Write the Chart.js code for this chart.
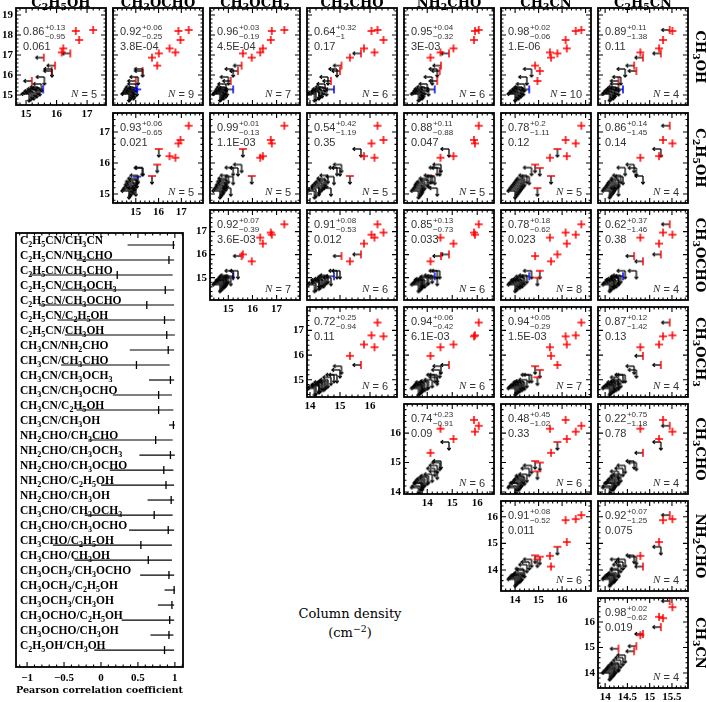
<!DOCTYPE html>
<html>
<head>
<meta charset="utf-8">
<title>Column density correlations</title>
<script src="https://cdn.jsdelivr.net/npm/chart.js@4.4.1/dist/chart.umd.min.js"></script>
<style>
  body { margin: 0; background: #fff; }
  #page { position: relative; width: 706px; height: 702px; overflow: hidden; }
  #page canvas { position: absolute; }
  .lab { position: absolute; font-family: 'DejaVu Serif', serif; font-weight: bold; color: #000; white-space: nowrap; text-align: center; }
  .lab sub { font-size: 72%; vertical-align: -0.3em; line-height: 0; }
  .lab sup { font-size: 72%; vertical-align: 0.5em; line-height: 0; }
  .colh { width: 90px; font-size: 13px; line-height: 16px; top: -5px; }
  .rowh { width: 120px; height: 16px; font-size: 13px; line-height: 16px; transform: rotate(90deg); }
  .axt { font-weight: normal; font-size: 13px; width: 220px; left: 240px; line-height: 18px; }
</style>
</head>
<body>
<div id="page"></div>
<script>
// --- Data ---

// species on the x axes (columns) and y axes (rows)
const colSpecies = ['C2H5OH', 'CH3OCHO', 'CH3OCH3', 'CH3CHO', 'NH2CHO', 'CH3CN', 'C2H5CN'];
const rowSpecies = ['CH3OH', 'C2H5OH', 'CH3OCHO', 'CH3OCH3', 'CH3CHO', 'NH2CHO', 'CH3CN'];

// log10 column densities per source (11 sources with CH3OH detected, then 11 with limits only)
const N_CH3OH   = [18.2, 17.75, 17.33, 17.13, 18.25, 17.08, 16.87, 16.47, 15.28, 16.2, 15.7, 16.3, 15.9, 15.55, 15.4, 15.3, 15.25, 15.2, 15.1, 15.05, 15.35, 15.15];
const N_C2H5OH  = [16.63, 16.74, 16.22, 16.17, 17.2, 16.45, 15.58, 15.95, 15.56, 15.84, 15.19, 15.85, 15.6, 15.5, 15.4, 15.3, 15.35, 15.2, 15.15, 15.1, 15.45, 15.25];
const N_CH3OCHO = [16.87, 16.96, 16.48, 16.74, 17.32, 16.01, 15.71, 15.94, 15.06, 15.3, 15.0, 15.3, 15.1, 15.0, 14.9, 14.85, 14.95, 14.8, 14.75, 14.7, 15.05, 14.9];
const N_CH3OCH3 = [16.8, 16.76, 16.43, 16.32, 17.32, 15.6, 15.97, 15.55, 15.2, 15.4, 15.1, 15.2, 15.0, 14.9, 14.85, 14.8, 14.9, 14.75, 14.7, 14.65, 14.95, 14.8];
const N_CH3CHO  = [16.05, 16.45, 15.8, 16.15, 16.25, 15.7, 15.33, 15.05, 14.8, 15.0, 14.7, 14.9, 14.6, 14.5, 14.45, 14.35, 14.4, 14.3, 14.2, 14.15, 14.55, 14.3];
const N_NH2CHO  = [15.91, 15.87, 15.05, 14.53, 16.06, 14.87, 14.13, 14.55, 14.3, 14.5, 14.4, 14.4, 14.2, 14.0, 13.9, 13.8, 13.85, 13.75, 13.7, 13.65, 14.05, 13.8];
const N_CH3CN   = [16.58, 16.15, 16.2, 15.48, 16.82, 15.8, 15.53, 14.85, 14.6, 15.05, 14.95, 14.7, 14.5, 14.4, 14.3, 14.2, 14.25, 14.1, 14.05, 14.0, 14.35, 14.15];
const N_C2H5CN  = [15.51, 15.3, 15.21, 14.79, 15.45, 15.25, 14.85, 14.65, 14.4, 14.7, 14.3, 14.45, 14.35, 14.3, 14.25, 14.2, 14.22, 14.15, 14.12, 14.1, 14.3, 14.18];

// 1 = detected, 0 = upper limit
const D_CH3OH   = [1,1,1,1,1,1,1,1,1,1,1, 0,0,0,0,0,0,0,0,0,0,0];
const D_C2H5OH  = [1,1,1,1,1,0,0,0,0,0,0, 0,0,0,0,0,0,0,0,0,0,0];
const D_CH3OCHO = [1,1,1,1,1,1,1,1,1,0,0, 0,0,0,0,0,0,0,0,0,0,0];
const D_CH3OCH3 = [1,1,1,1,1,1,1,0,0,0,0, 0,0,0,0,0,0,0,0,0,0,0];
const D_CH3CHO  = [1,1,1,1,1,0,1,0,0,0,0, 0,0,0,0,0,0,0,0,0,0,0];
const D_NH2CHO  = [1,1,1,1,1,0,1,0,0,0,0, 0,0,0,0,0,0,0,0,0,0,0];
const D_CH3CN   = [1,1,1,1,1,1,1,1,0,1,1, 0,0,0,0,0,0,0,0,0,0,0];
const D_C2H5CN  = [1,1,1,1,0,0,0,0,0,0,0, 0,0,0,0,0,0,0,0,0,0,0];

// source drawn in blue
const blueSource = [0,0,0,0,0,0,0,0,1,0,0, 0,0,0,0,0,0,0,0,0,0,0];

// axis ranges and tick labels
const xMin = [14.67, 14.0, 14.24, 13.9, 13.07, 13.4, 13.84];
const xMax = [17.62, 17.95, 17.97, 16.9, 16.67, 17.23, 15.86];
const yMin = [14.5, 14.71, 14.03, 14.3, 13.93, 13.21, 13.41];
const yMax = [19.35, 17.61, 17.94, 17.95, 16.99, 16.59, 16.94];
const xTicks = [[15,16,17], [15,16,17], [15,16,17], [14,15,16], [14,15,16], [14,15,16], [14,14.5,15,15.5]];
const yTicks = [[15,16,17,18,19], [15,16,17], [15,16,17], [15,16,17], [14,15,16], [14,15,16], [14,15,16]];

// Pearson r with upper / lower uncertainty, p-value, number of detections (row r, columns r..6)
const corrR = [[0.86,0.92,0.96,0.64,0.95,0.98,0.89],[0.93,0.99,0.54,0.88,0.78,0.86],[0.92,0.91,0.85,0.78,0.62],[0.72,0.94,0.94,0.87],[0.74,0.48,0.22],[0.91,0.92],[0.98]];
const corrPlus = [[0.13,0.06,0.03,0.32,0.04,0.02,0.11],[0.06,0.01,0.42,0.11,0.2,0.14],[0.07,0.08,0.13,0.18,0.37],[0.25,0.06,0.05,0.12],[0.23,0.45,0.75],[0.08,0.07],[0.02]];
const corrMinus = [[0.95,0.25,0.19,1,0.32,0.06,1.38],[0.65,0.13,1.19,0.88,1.11,1.45],[0.39,0.53,0.73,0.62,1.46],[0.94,0.42,0.29,1.42],[0.91,1.02,1.18],[0.52,1.25],[0.62]];
const pValue = [['0.061','3.8E-04','4.5E-04','0.17','3E-03','1.E-06','0.11'],['0.021','1.1E-03','0.35','0.047','0.12','0.14'],['3.6E-03','0.012','0.033','0.023','0.38'],['0.11','6.1E-03','1.5E-03','0.13'],['0.09','0.33','0.78'],['0.011','0.075'],['0.019']];
const nDet = [[5,9,7,6,6,10,4],[5,5,5,5,5,4],[7,6,6,8,4],[6,6,7,4],[6,6,4],[6,4],[4]];

const pearsonTicks = [-1, -0.5, 0, 0.5, 1];

// --- Layout ---
const colLeft = [16, 113, 210, 307, 404, 501, 598];
const rowTop = [8, 113, 210, 307, 404, 501, 598];
const rowH = [97, 90, 90, 90, 90, 90, 90];
const panelW = 90;
const M = 12;

const logN = {CH3OH: N_CH3OH, C2H5OH: N_C2H5OH, CH3OCHO: N_CH3OCHO, CH3OCH3: N_CH3OCH3, CH3CHO: N_CH3CHO, NH2CHO: N_NH2CHO, CH3CN: N_CH3CN, C2H5CN: N_C2H5CN};
const detected = {CH3OH: D_CH3OH, C2H5OH: D_C2H5OH, CH3OCHO: D_CH3OCHO, CH3OCH3: D_CH3OCH3, CH3CHO: D_CH3CHO, NH2CHO: D_NH2CHO, CH3CN: D_CH3CN, C2H5CN: D_C2H5CN};

const page = document.getElementById('page');
const tickFont = {family: 'Liberation Serif', weight: 'bold', size: 11};

function chemHtml(s) { return s.replace(/(\d+)/g, '<sub>$1</sub>'); }

function drawChem(ctx, s, x, y, size) {
    s.split(/(\d)/).forEach(part => {
        if (!part) return;
        const sub = /\d/.test(part);
        ctx.font = `bold ${sub ? size * 0.7 : size}px "Liberation Serif"`;
        ctx.fillText(part, x, y + (sub ? size * 0.28 : 0));
        x += ctx.measureText(part).width;
    });
}

// --- Markers ---
function arrow(g, x0, y0, x1, y1) {
    g.beginPath(); g.moveTo(x0, y0); g.lineTo(x1, y1); g.stroke();
    const a = Math.atan2(y1 - y0, x1 - x0), h = 2.6;
    g.beginPath();
    g.moveTo(x1 - h * Math.cos(a - 0.7), y1 - h * Math.sin(a - 0.7));
    g.lineTo(x1, y1);
    g.lineTo(x1 - h * Math.cos(a + 0.7), y1 - h * Math.sin(a + 0.7));
    g.stroke();
}

function makeMarker(kind, col) {
    const c = document.createElement('canvas');
    c.width = c.height = 24;
    const g = c.getContext('2d');
    const m = 12;
    g.lineWidth = 1.3;
    g.strokeStyle = '#000';
    if (kind === 'xlim' || kind === 'both') arrow(g, m, m, m - 8, m);
    if (kind === 'ylim' || kind === 'both') arrow(g, m, m, m, m + 8);
    g.strokeStyle = col;
    g.lineWidth = 1.5;
    g.beginPath();
    if (kind === 'det' || kind === 'xlim') { g.moveTo(m, m - 4); g.lineTo(m, m + 4); }
    if (kind === 'det' || kind === 'ylim') { g.moveTo(m - 4, m); g.lineTo(m + 4, m); }
    g.stroke();
    return c;
}

const MARK = {};
['det', 'xlim', 'ylim', 'both'].forEach(k => {
    MARK[k] = makeMarker(k, '#ff0000');
    MARK[k + 'B'] = makeMarker(k, '#0000ff');
});

// --- Plugins ---
function eachTick(scale, minor, major, fn) {
    if (!minor) return;
    for (let k = Math.ceil(scale.min / minor - 1e-9); k * minor <= scale.max + 1e-9; k++) {
        const v = k * minor;
        const big = Math.abs(v / major - Math.round(v / major)) < 1e-6;
        fn(scale.getPixelForValue(v), big);
    }
}

function drawNote(ctx, a, n) {
    const x0 = a.left + 7, y0 = a.top + 15 + n.shift;
    ctx.fillStyle = '#333';
    ctx.textBaseline = 'middle';
    ctx.textAlign = 'left';
    ctx.font = '11px "Liberation Sans"';
    const rs = n.r.toFixed(2);
    ctx.fillText(rs, x0, y0);
    const w = ctx.measureText(rs).width;
    ctx.font = '8px "Liberation Sans"';
    ctx.fillText('+' + n.plus, x0 + w + 0.5, y0 - 4.5);
    ctx.fillText('\u2212' + n.minus, x0 + w + 0.5, y0 + 4.5);
    ctx.font = '11px "Liberation Sans"';
    ctx.fillText(n.p, x0, y0 + 14.5);
    const tail = ' = ' + n.n;
    const wt = ctx.measureText(tail).width;
    ctx.font = 'italic 11px "Liberation Serif"';
    const wn = ctx.measureText('N').width;
    const xr = a.right - 9, yb = a.bottom - 10.5;
    ctx.fillText('N', xr - wt - wn, yb);
    ctx.font = '11px "Liberation Sans"';
    ctx.fillText(tail, xr - wt, yb);
}

const deco = {
    id: 'deco',
    afterDatasetsDraw(chart, args, o) {
        const {ctx, chartArea: a, scales: {x, y}} = chart;
        ctx.save();
        ctx.strokeStyle = '#000';
        ctx.lineWidth = 1.1;
        ctx.beginPath();
        eachTick(x, o.xMinor, o.xMajor, (p, big) => {
            const L = big ? 5 : 2.5;
            ctx.moveTo(p, a.bottom); ctx.lineTo(p, a.bottom - L);
            ctx.moveTo(p, a.top); ctx.lineTo(p, a.top + L);
        });
        eachTick(y, o.yMinor, o.yMajor, (p, big) => {
            const L = big ? 5 : 2.5;
            ctx.moveTo(a.left, p); ctx.lineTo(a.left + L, p);
            ctx.moveTo(a.right, p); ctx.lineTo(a.right - L, p);
        });
        ctx.stroke();
        ctx.lineWidth = 1.8;
        ctx.strokeRect(a.left, a.top, a.width, a.height);
        if (o.note) drawNote(ctx, a, o.note);
        ctx.restore();
    }
};

const pairLabels = {
    id: 'pairLabels',
    afterDatasetsDraw(chart, args, o) {
        const {ctx, chartArea: a, scales: {y}} = chart;
        ctx.save();
        ctx.fillStyle = '#000';
        ctx.textBaseline = 'alphabetic';
        ctx.textAlign = 'left';
        o.labels.forEach((s, i) => drawChem(ctx, s, a.left + 4, y.getPixelForValue(i) - 1.5, 11.5));
        ctx.restore();
    }
};

function addCanvas(left, top, w, h) {
    const cv = document.createElement('canvas');
    cv.width = w; cv.height = h;
    cv.style.left = left + 'px'; cv.style.top = top + 'px';
    cv.style.width = w + 'px'; cv.style.height = h + 'px';
    page.appendChild(cv);
    return cv;
}

function addLabel(cls, html, left, top) {
    const d = document.createElement('div');
    d.className = 'lab ' + cls;
    d.innerHTML = html;
    if (left !== null) d.style.left = left + 'px';
    if (top !== null) d.style.top = top + 'px';
    page.appendChild(d);
}

// --- Scatter panels ---
function panelPoints(xs, ys) {
    const X = logN[xs], Y = logN[ys], DX = detected[xs], DY = detected[ys];
    const det = [], lim = [];
    X.forEach((xv, i) => {
        const k = DX[i] && DY[i] ? 'det' : DX[i] ? 'ylim' : DY[i] ? 'xlim' : 'both';
        const pt = {x: xv, y: Y[i], k: k + (blueSource[i] ? 'B' : '')};
        (k === 'det' ? det : lim).push(pt);
    });
    return {det, lim};
}

const hiddenGrid = {display: false, drawTicks: false};
const tickOpts = (show) => ({display: show, color: '#000', padding: 3, font: tickFont, maxRotation: 0, minRotation: 0, autoSkip: false, callback: v => String(v)});

function renderPanel(r, c) {
    const showLab = r === c;
    const padL = showLab ? 22 : 0, padB = showLab ? 16 : 0;
    const w = panelW + 2 * M + padL, h = rowH[r] + 2 * M + padB;
    const cv = addCanvas(colLeft[c] - M - padL, rowTop[r] - M, w, h);
    const pts = panelPoints(colSpecies[c], rowSpecies[r]);
    const k = c - r;
    const ds = (data) => ({data, pointStyle: p => MARK[p.raw.k], pointRadius: 5});
    new Chart(cv, {
        type: 'scatter',
        data: {datasets: [ds(pts.det), ds(pts.lim)]},
        options: {
            responsive: false, animation: false, events: [],
            layout: {padding: M},
            plugins: {
                legend: {display: false}, tooltip: {enabled: false},
                deco: {
                    xMinor: colSpecies[c] === 'C2H5CN' ? 0.1 : 0.2, xMajor: colSpecies[c] === 'C2H5CN' ? 0.5 : 1,
                    yMinor: 0.2, yMajor: 1,
                    note: {r: corrR[r][k], plus: corrPlus[r][k], minus: corrMinus[r][k], p: pValue[r][k], n: nDet[r][k], shift: r === 0 ? 9 : 0}
                }
            },
            scales: {
                x: {
                    type: 'linear', min: xMin[c], max: xMax[c],
                    grid: hiddenGrid, border: {display: false},
                    ticks: tickOpts(showLab),
                    afterBuildTicks: s => { s.ticks = xTicks[c].map(v => ({value: v})); },
                    afterFit: s => { s.height = padB; }
                },
                y: {
                    type: 'linear', min: yMin[r], max: yMax[r],
                    grid: hiddenGrid, border: {display: false},
                    ticks: tickOpts(showLab),
                    afterBuildTicks: s => { s.ticks = yTicks[r].map(v => ({value: v})); },
                    afterFit: s => { s.width = padL; }
                }
            }
        },
        plugins: [deco]
    });
}

for (let r = 0; r < rowSpecies.length; r++) {
    for (let c = r; c < colSpecies.length; c++) renderPanel(r, c);
}

// --- Pearson summary panel ---
const pairNames = [], pearsonR = [], pearsonLo = [], pearsonHi = [];
for (let c = colSpecies.length - 1; c >= 0; c--) {
    for (let r = c; r >= 0; r--) {
        const k = c - r;
        pairNames.push(colSpecies[c] + '/' + rowSpecies[r]);
        pearsonR.push(corrR[r][k]);
        pearsonLo.push(corrR[r][k] - corrMinus[r][k]);
        pearsonHi.push(Math.min(1, corrR[r][k] + corrPlus[r][k]));
    }
}

(function renderPearson() {
    const cv = addCanvas(0, 221, 200, 481);
    const bars = pearsonLo.map((lo, i) => ({
        data: [{x: lo, y: i}, {x: pearsonHi[i], y: i}],
        showLine: true, pointRadius: 0, borderColor: '#000', borderWidth: 1.2
    }));
    new Chart(cv, {
        type: 'scatter',
        data: {
            datasets: [
                {data: pearsonR.map((v, i) => ({x: v, y: i})), pointStyle: 'line', rotation: 90, pointRadius: 4, borderColor: '#000', backgroundColor: '#000', borderWidth: 1.3},
                ...bars
            ]
        },
        options: {
            responsive: false, animation: false, events: [],
            layout: {padding: {left: 16, right: 17, top: 12, bottom: 0}},
            plugins: {
                legend: {display: false}, tooltip: {enabled: false},
                deco: {xMinor: 0.1, xMajor: 0.5, yMinor: null},
                pairLabels: {labels: pairNames}
            },
            scales: {
                x: {
                    type: 'linear', min: -1.15, max: 1.11,
                    grid: hiddenGrid, border: {display: false},
                    ticks: {...tickOpts(true), padding: 5, callback: v => v < 0 ? '\u2212' + Math.abs(v) : String(v)},
                    afterBuildTicks: s => { s.ticks = pearsonTicks.map(v => ({value: v})); },
                    title: {display: true, text: 'Pearson correlation coefficient', color: '#000', font: {family: 'DejaVu Serif', weight: 'bold', size: 10}, padding: {top: 0, bottom: 6}},
                    afterFit: s => { s.height = 35; }
                },
                y: {type: 'linear', reverse: true, min: -0.8, max: 28.13, display: false}
            }
        },
        plugins: [deco, pairLabels]
    });
})();

// --- Headers and axis title ---
colSpecies.forEach((s, c) => addLabel('colh', chemHtml(s), colLeft[c], null));
rowSpecies.forEach((s, r) => addLabel('rowh', chemHtml(s), 700 - 60, rowTop[r] + rowH[r] / 2 - 8));
addLabel('axt', 'Column density', null, 605);
addLabel('axt', '(cm<sup>\u22122</sup>)', null, 624);
</script>
</body>
</html>
